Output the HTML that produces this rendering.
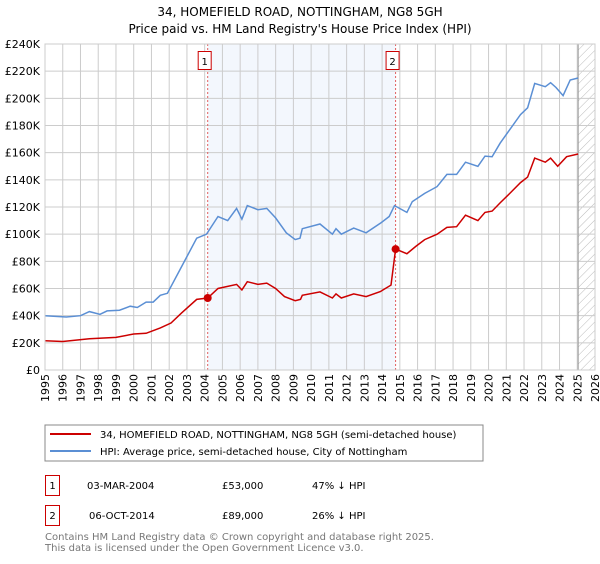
<!DOCTYPE html>
<html><head><meta charset="utf-8"><style>
body{margin:0;background:#fff;font-family:"DejaVu Sans","Liberation Sans",sans-serif;}
svg text{font-family:"DejaVu Sans","Liberation Sans",sans-serif;}
</style></head><body>
<svg id="c" width="600" height="560" xmlns="http://www.w3.org/2000/svg">
<defs><pattern id="hatch" width="6" height="6" patternUnits="userSpaceOnUse" patternTransform="rotate(45)"><line x1="0" y1="0" x2="0" y2="6" stroke="#bbb" stroke-width="1"/></pattern></defs>
<text x="300" y="16" text-anchor="middle" font-size="12">34, HOMEFIELD ROAD, NOTTINGHAM, NG8 5GH</text>
<text x="300" y="33" text-anchor="middle" font-size="12">Price paid vs. HM Land Registry's House Price Index (HPI)</text>
<g id="plot"></g>
<rect x="45" y="425" width="438" height="36" fill="#fff" stroke="#888"/>
<line x1="50" y1="434" x2="91" y2="434" stroke="#cc0000" stroke-width="2"/>
<text x="100" y="438" font-size="10">34, HOMEFIELD ROAD, NOTTINGHAM, NG8 5GH (semi-detached house)</text>
<line x1="50" y1="451" x2="91" y2="451" stroke="#5b8fd4" stroke-width="2"/>
<text x="100" y="455" font-size="10">HPI: Average price, semi-detached house, City of Nottingham</text>
<rect x="45.5" y="475.5" width="14" height="20" fill="none" stroke="#cc0000"/>
<text x="52.5" y="489" font-size="10" text-anchor="middle">1</text>
<text x="87" y="489" font-size="10">03-MAR-2004</text>
<text x="222" y="489" font-size="10">£53,000</text>
<text x="312" y="489" font-size="10">47% ↓ HPI</text>
<rect x="45.5" y="505.5" width="14" height="20" fill="none" stroke="#cc0000"/>
<text x="52.5" y="519" font-size="10" text-anchor="middle">2</text>
<text x="89" y="519" font-size="10">06-OCT-2014</text>
<text x="222" y="519" font-size="10">£89,000</text>
<text x="312" y="519" font-size="10">26% ↓ HPI</text>
<text x="45" y="540" font-size="10" fill="#777">Contains HM Land Registry data © Crown copyright and database right 2025.</text>
<text x="45" y="551" font-size="10" fill="#777">This data is licensed under the Open Government Licence v3.0.</text>
</svg>
<script>
const hpiYears=[1995,1996.2,1997,1997.5,1998.1,1998.5,1999.2,1999.8,2000.2,2000.7,2001.1,2001.5,2001.9,2002.6,2003.55,2004.1,2004.75,2005.3,2005.8,2006.1,2006.4,2007,2007.5,2008,2008.6,2009.1,2009.37,2009.5,2010.5,2011.2,2011.4,2011.7,2012.4,2013.1,2013.9,2014.4,2014.7,2015.4,2015.7,2016.4,2017.1,2017.65,2018.2,2018.7,2019.4,2019.8,2020.2,2020.65,2021.2,2021.8,2022.2,2022.6,2023.2,2023.5,2023.8,2024.2,2024.6,2025.05];
const hpiValues=[40,39,40,43,41,43.5,44,47,46,50,50,55,56.5,73.6,97,100,113,110,119,111,121,118,119,112,101,96,97,104,107.5,100,104,100,104.5,101,108,113,121,116,124,130,135,144,144,153,150,157.5,157,167,177,188,193,211,208.6,211.5,208,202,213.5,215];
const ppYears=[1995,1996,1997.5,1999,2000,2000.7,2001.5,2002.1,2002.7,2003.55,2004.17,2004.75,2005.8,2006.1,2006.4,2007,2007.5,2008,2008.5,2009.1,2009.4,2009.5,2010.5,2011.2,2011.4,2011.7,2012.4,2013.1,2013.9,2014.5,2014.76,2015.4,2015.9,2016.4,2017.1,2017.65,2018.2,2018.7,2019.4,2019.8,2020.2,2020.65,2021.2,2021.8,2022.2,2022.6,2023.2,2023.5,2023.9,2024.4,2025.05];
const ppValues=[21.6,21,23,24,26.5,27,31,34.6,42,52,53,60,63,59,65,63,64,60,54,51,52,55,57.5,53,56,53,56,54,57.7,62.5,89,85.6,91,96,100,105,105.5,114,110,116,117,123,130,138,142,156,153,156,150,157,159];
const sales=[{n:"1",year:2004.17,value:53},{n:"2",year:2014.76,value:89}];
const yTicks=[0,20,40,60,80,100,120,140,160,180,200,220,240];
const xTicks=[1995,1996,1997,1998,1999,2000,2001,2002,2003,2004,2005,2006,2007,2008,2009,2010,2011,2012,2013,2014,2015,2016,2017,2018,2019,2020,2021,2022,2023,2024,2025,2026];
const X0=45,X1=595,Y0=370,Y1=44;
const xs=y=>X0+(y-1995)/(2026-1995)*(X1-X0);
const ys=v=>Y0-v/240*(Y0-Y1);
const NS="http://www.w3.org/2000/svg";
const g=document.getElementById('plot');
function mk(t,a){const e=document.createElementNS(NS,t);for(const k in a)e.setAttribute(k,a[k]);g.appendChild(e);return e;}
let e=mk('rect',{x:xs(sales[0].year),y:Y1,width:xs(sales[1].year)-xs(sales[0].year),height:Y0-Y1,fill:'#eef3fc',opacity:0.7});


e=mk('rect',{x:xs(2025.05),y:Y1,width:X1-xs(2025.05),height:Y0-Y1,fill:'url(#hatch)'});


yTicks.forEach(v=>{
 let l=mk('line',{x1:X0,x2:X1,y1:ys(v),y2:ys(v),stroke:'#ccc','stroke-width':1});
 
 
 let t=mk('text',{x:40,y:ys(v)+4,'text-anchor':'end','font-size':11});
 t.textContent=v===0?'£0':'£'+v+'K';
 
 
});
xTicks.forEach(y=>{
 let l=mk('line',{x1:xs(y),x2:xs(y),y1:Y1,y2:Y0,stroke:'#ccc','stroke-width':1});
 
 
 const tx=xs(y)+4,ty=374;
 let t=mk('text',{x:tx,y:ty,'text-anchor':'end','font-size':11,transform:'rotate(-90 '+tx+' '+ty+')'});
 t.textContent=y;
 
 
});
e=mk('line',{x1:xs(2025.05),x2:xs(2025.05),y1:Y1,y2:Y0,stroke:'#999','stroke-width':1});


sales.forEach(s=>{
 let l=mk('line',{x1:xs(s.year),x2:xs(s.year),y1:Y1,y2:Y0,stroke:'#e06060','stroke-width':1,'stroke-dasharray':'2,2'});
 
 
});
function path(xa,va,col,name){
 const d=xa.map((y,i)=>(i?'L':'M')+xs(y).toFixed(1)+','+ys(va[i]).toFixed(1)).join('');
 const p=mk('path',{d:d,fill:'none',stroke:col,'stroke-width':1.5});
 
 
}
path(hpiYears,hpiValues,'#5b8fd4','hpi-line');
path(ppYears,ppValues,'#cc0000','property-price-line');
sales.forEach(s=>{
 let c=mk('circle',{cx:xs(s.year),cy:ys(s.value),r:4,fill:'#cc0000'});
 
 
 let r=mk('rect',{x:xs(s.year)-9.5,y:51.5,width:13,height:18,fill:'#fff',stroke:'#cc0000'});
 
 
 let t=mk('text',{x:xs(s.year)-3,y:65,'text-anchor':'middle','font-size':10});
 t.textContent=s.n;
 
 
});
e=mk('rect',{x:X0,y:Y1,width:X1-X0,height:Y0-Y1,fill:'none',stroke:'#ccc'});


</script>
</body></html>
